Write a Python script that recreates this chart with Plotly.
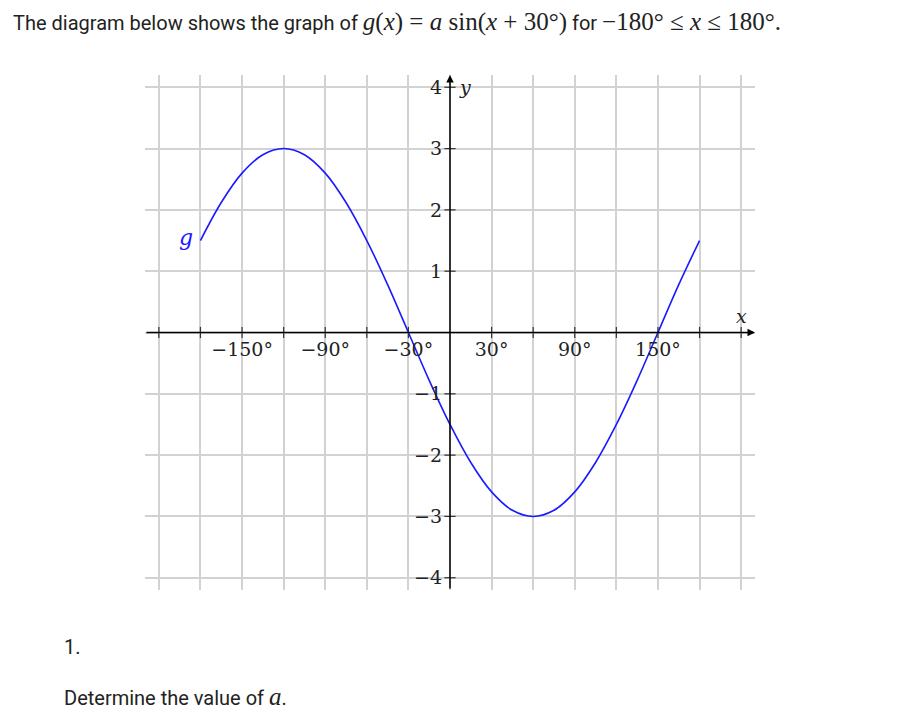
import plotly.graph_objects as go

# ---- data ----
x_deg = [-180, -165, -150, -135, -120, -105, -90, -75, -60, -45, -30, -15, 0,
         15, 30, 45, 60, 75, 90, 105, 120, 135, 150, 165, 180]
g_vals = [1.5, 2.12, 2.6, 2.9, 3.0, 2.9, 2.6, 2.12, 1.5, 0.78, 0.0, -0.78, -1.5,
          -2.12, -2.6, -2.9, -3.0, -2.9, -2.6, -2.12, -1.5, -0.78, 0.0, 0.78, 1.5]
x_label_vals = [-150, -90, -30, 30, 90, 150]
x_label_text = ["−150°", "−90°", "−30°", "30°", "90°", "150°"]
y_label_vals = [4, 3, 2, 1, -1, -2, -3, -4]
y_label_text = ["4", "3", "2", "1", "−1", "−2", "−3", "−4"]
x_tick_marks = [-210, -180, -150, -120, -90, -60, -30, 30, 60, 90, 120, 150, 180, 210]
y_tick_marks = [-4, -3, -2, -1, 1, 2, 3, 4]

SERIF = "DejaVu Serif"
TIMES = "Liberation Serif"
SANS = "Roboto"
XR = [-220, 220]
YR = [-4.2, 4.2]

# page has an 8px body margin; figure is placed at (8, 8)
OFF = 8
W, H = 898 - OFF, 724 - OFF
PL, PR, PT, PB = 145, 755, 75, 590  # plot area in page pixels
ML, MR, MT, MB = PL - OFF, W - (PR - OFF), PT - OFF, H - (PB - OFF)

fig = go.Figure()

# curve
fig.add_trace(go.Scatter(x=x_deg, y=g_vals, mode="lines",
                         line=dict(color="#1a1aff", width=1.6, shape="spline", smoothing=1.0),
                         hoverinfo="skip", showlegend=False))

# tick marks on axes
fig.add_trace(go.Scatter(x=x_tick_marks, y=[0] * len(x_tick_marks), mode="markers",
                         xaxis="x2", yaxis="y",
                         marker=dict(symbol="line-ns-open", size=8, color="#333",
                                     line=dict(color="#333", width=1.2)),
                         hoverinfo="skip", showlegend=False))
fig.add_trace(go.Scatter(x=[0] * len(y_tick_marks), y=y_tick_marks, mode="markers",
                         xaxis="x", yaxis="y2",
                         marker=dict(symbol="line-ew-open", size=8, color="#333",
                                     line=dict(color="#333", width=1.2)),
                         hoverinfo="skip", showlegend=False))

grid_col = "#d2d2d2"
fig.update_layout(
    width=W, height=H,
    margin=dict(l=ML, r=MR, t=MT, b=MB),
    paper_bgcolor="white", plot_bgcolor="white",
    xaxis=dict(range=XR, dtick=30, tick0=0, showgrid=True, gridcolor=grid_col, gridwidth=1.6,
               showticklabels=False, zeroline=False, showline=False, ticks="", fixedrange=True),
    yaxis=dict(range=YR, dtick=1, tick0=0, showgrid=True, gridcolor=grid_col, gridwidth=1.6,
               showticklabels=False, zeroline=False, showline=False, ticks="", fixedrange=True),
    xaxis2=dict(range=XR, overlaying="x", anchor="free", position=0.5, side="bottom",
                tickmode="array", tickvals=x_label_vals, ticktext=x_label_text,
                showgrid=False, zeroline=False, showline=False, ticks="",
                ticklabelstandoff=3,
                tickfont=dict(family=SERIF, size=19, color="#222")),
    yaxis2=dict(range=YR, overlaying="y", anchor="free", position=0.5, side="left",
                tickmode="array", tickvals=y_label_vals, ticktext=y_label_text,
                showgrid=False, zeroline=False, showline=False, ticks="",
                ticklabelstandoff=8,
                tickfont=dict(family=SERIF, size=19, color="#222")),
)

# axes with arrows
fig.add_annotation(x=XR[1], y=0, ax=XR[0], ay=0, xref="x", yref="y", axref="x", ayref="y",
                   text="", showarrow=True, arrowhead=2, arrowsize=1, arrowwidth=1.5,
                   arrowcolor="black")
fig.add_annotation(x=0, y=YR[1], ax=0, ay=YR[0], xref="x", yref="y", axref="x", ayref="y",
                   text="", showarrow=True, arrowhead=2, arrowsize=1, arrowwidth=1.5,
                   arrowcolor="black")

# axis names and curve name
fig.add_annotation(x=5, y=4.0, xref="x", yref="y", text="<i>y</i>", showarrow=False,
                   xanchor="left", yanchor="middle", font=dict(family=SERIF, size=19, color="#222"))
fig.add_annotation(x=210, y=0.05, xref="x", yref="y", text="<i>x</i>", showarrow=False,
                   xanchor="center", yanchor="bottom", font=dict(family=SERIF, size=19, color="#222"))
fig.add_annotation(x=-184, y=1.55, xref="x", yref="y", text="<i>g</i>", showarrow=False,
                   xanchor="right", yanchor="middle", font=dict(family=SERIF, size=22, color="#1a1aff"))


def px_to_paper(px, py):
    fx, fy = px - OFF, py - OFF
    return (fx - ML) / (W - ML - MR), 1 - (fy - MT) / (H - MT - MB)


def add_text(px, py, text, size):
    xp, yp = px_to_paper(px, py)
    fig.add_annotation(x=xp, y=yp, xref="paper", yref="paper", text=text, showarrow=False,
                       xanchor="left", yanchor="middle", font=dict(family=SANS, size=size, color="#222"))


m = f"<span style='font-family:{TIMES};font-size:25px'>"
title = ("The diagram below shows the graph of "
         f"{m}<i>g</i>(<i>x</i>) = <i>a</i> sin(<i>x</i> + 30°)</span>"
         f" for {m}−180° ≤ <i>x</i> ≤ 180°.</span>")
add_text(11, 22, title, 20)
add_text(62, 647, "1.", 20)
add_text(62, 696, f"Determine the value of {m}<i>a</i></span>.", 20)

fig.write_html("out.html")
